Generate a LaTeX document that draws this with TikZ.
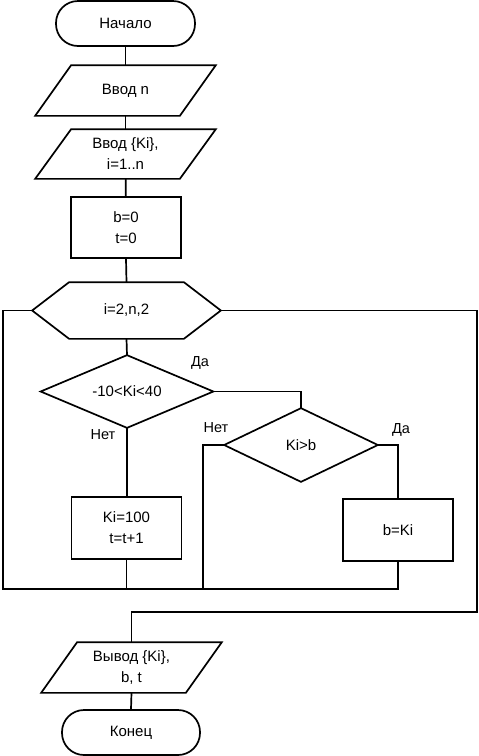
\documentclass[tikz,border=0pt]{standalone}
\usepackage{fontspec}
\setmainfont{Liberation Sans}
\begin{document}
\begin{tikzpicture}[x=1pt,y=-1pt, line width=1.7pt, line join=miter,
  every node/.style={font=\fontsize{15}{21}\selectfont, align=center, inner sep=0pt},
  term/.style={draw, rounded corners=22pt, minimum width=139pt, minimum height=45pt},
  iobox/.style={minimum width=143pt, minimum height=49pt},
  procbox/.style={draw, minimum width=110pt, minimum height=61pt},
  hexbox/.style={minimum width=187pt, minimum height=55pt},
  lbl/.style={font=\fontsize{14.5}{17}\selectfont}]
\useasboundingbox (0,0) rectangle (479,756);
% nodes
\node[term] (start) at (125.5,23.5) {Начало};
\node[iobox] (in1) at (125.5,90.5) {Ввод n};
\node[iobox, minimum height=48pt] (in2) at (125.5,154) {Ввод \{Ki\},\\ i=1..n};
\node[procbox] (init) at (126,227.5) {b=0\\ t=0};
\node[hexbox] (loop) at (126.5,310.5) {i=2,n,2};
\node[minimum width=171pt, minimum height=71pt] (d1) at (127,391.5) {-10<Ki<40};
\node[minimum width=152pt, minimum height=72pt] (d2) at (301,445) {Ki>b};
\node[procbox, minimum height=62pt] (box1) at (126.5,528) {Ki=100\\ t=t+1};
\node[procbox, minimum height=62pt] (box2) at (398,530) {b=Ki};
\node[iobox] (out) at (131.5,667.5) {Вывод \{Ki\},\\ b, t};
\node[term, minimum width=138pt] (end) at (131,732.5) {Конец};
% shapes drawn around nodes
\foreach \n in {in1,in2,out}{
  \draw ([xshift=18pt]\n.north west) -- ([xshift=18pt]\n.north east) -- ([xshift=-18pt]\n.south east) -- ([xshift=-18pt]\n.south west) -- cycle;
}
\foreach \n in {d1,d2}{
  \draw (\n.west) -- (\n.north) -- (\n.east) -- (\n.south) -- cycle;
}
\draw (loop.west) -- ([xshift=37pt]loop.north west) -- ([xshift=-37pt]loop.north east) -- (loop.east) -- ([xshift=-37pt]loop.south east) -- ([xshift=37pt]loop.south west) -- cycle;
% labels
\node[lbl] (yes1) at (200,363) {Да};
\node[lbl] (no1) at (103,435) {Нет};
\node[lbl] (no2) at (216,428) {Нет};
\node[lbl] (yes2) at (401,430) {Да};
% coordinates
\coordinate (tl) at (3,310.5);
\coordinate (bl) at (3,589);
\coordinate (br) at (398,589);
\coordinate (nj) at (203,589);
\coordinate (r1) at (477,310.5);
\coordinate (r2) at (477,612);
% connectors
\draw (start) -- (in1);
\draw (in1) -- (in2);
\draw (in2) -- (init);
\draw (init.south) -- (loop.north);
\draw (loop.south) -- (d1.north);
\draw (d1.east) -| (d2.north);
\draw (d1.south) -- (d1.south |- box1.north);
\draw (d2.east) -| (box2.north);
\draw (d2.west) -| (nj);
\draw (box1.south) -- (box1.south |- bl);
\draw (loop.west) -- (tl) -- (bl) -- (br) -- (box2.south);
\draw (loop.east) -- (r1) -- (r2) -| (out.north);
\draw (out.south) -- (end.north);
\end{tikzpicture}
\end{document}
